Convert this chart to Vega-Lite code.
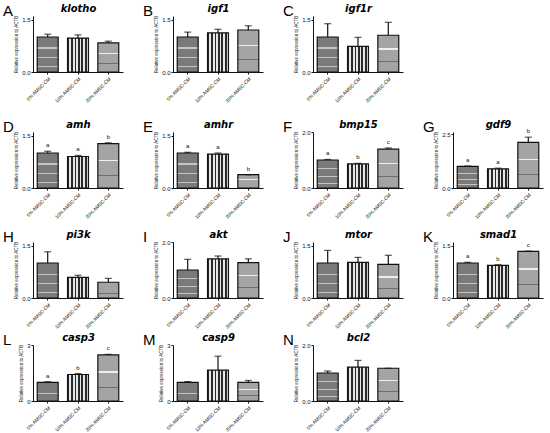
{
  "$schema": "https://vega.github.io/schema/vega-lite/v6.json",
  "padding": {"left": 3, "top": 3, "right": 3, "bottom": 0},
  "data": {
    "values": [
      {"gene": "klotho", "group": "5% AMSC-CM", "mean": 1.00, "hi": 1.08, "sig": ""},
      {"gene": "klotho", "group": "10% AMSC-CM", "mean": 0.97, "hi": 1.06, "sig": ""},
      {"gene": "klotho", "group": "20% AMSC-CM", "mean": 0.83, "hi": 0.88, "sig": ""},
      {"gene": "igf1", "group": "5% AMSC-CM", "mean": 1.00, "hi": 1.14, "sig": ""},
      {"gene": "igf1", "group": "10% AMSC-CM", "mean": 1.12, "hi": 1.22, "sig": ""},
      {"gene": "igf1", "group": "20% AMSC-CM", "mean": 1.20, "hi": 1.32, "sig": ""},
      {"gene": "igf1r", "group": "5% AMSC-CM", "mean": 1.00, "hi": 1.38, "sig": ""},
      {"gene": "igf1r", "group": "10% AMSC-CM", "mean": 0.73, "hi": 0.99, "sig": ""},
      {"gene": "igf1r", "group": "20% AMSC-CM", "mean": 1.05, "hi": 1.42, "sig": ""},
      {"gene": "amh", "group": "5% AMSC-CM", "mean": 1.00, "hi": 1.05, "sig": "a"},
      {"gene": "amh", "group": "10% AMSC-CM", "mean": 0.90, "hi": 0.93, "sig": "a"},
      {"gene": "amh", "group": "20% AMSC-CM", "mean": 1.27, "hi": 1.29, "sig": "b"},
      {"gene": "amhr", "group": "5% AMSC-CM", "mean": 1.00, "hi": 1.02, "sig": "a"},
      {"gene": "amhr", "group": "10% AMSC-CM", "mean": 0.97, "hi": 1.00, "sig": "a"},
      {"gene": "amhr", "group": "20% AMSC-CM", "mean": 0.38, "hi": 0.38, "sig": "b"},
      {"gene": "bmp15", "group": "5% AMSC-CM", "mean": 1.00, "hi": 1.02, "sig": "a"},
      {"gene": "bmp15", "group": "10% AMSC-CM", "mean": 0.86, "hi": 0.88, "sig": "b"},
      {"gene": "bmp15", "group": "20% AMSC-CM", "mean": 1.39, "hi": 1.43, "sig": "c"},
      {"gene": "gdf9", "group": "5% AMSC-CM", "mean": 1.00, "hi": 1.02, "sig": "a"},
      {"gene": "gdf9", "group": "10% AMSC-CM", "mean": 0.89, "hi": 0.92, "sig": "a"},
      {"gene": "gdf9", "group": "20% AMSC-CM", "mean": 2.12, "hi": 2.36, "sig": "b"},
      {"gene": "pi3k", "group": "5% AMSC-CM", "mean": 1.00, "hi": 1.32, "sig": ""},
      {"gene": "pi3k", "group": "10% AMSC-CM", "mean": 0.59, "hi": 0.65, "sig": ""},
      {"gene": "pi3k", "group": "20% AMSC-CM", "mean": 0.45, "hi": 0.56, "sig": ""},
      {"gene": "akt", "group": "5% AMSC-CM", "mean": 1.00, "hi": 1.38, "sig": ""},
      {"gene": "akt", "group": "10% AMSC-CM", "mean": 1.40, "hi": 1.50, "sig": ""},
      {"gene": "akt", "group": "20% AMSC-CM", "mean": 1.26, "hi": 1.40, "sig": ""},
      {"gene": "mtor", "group": "5% AMSC-CM", "mean": 1.00, "hi": 1.36, "sig": ""},
      {"gene": "mtor", "group": "10% AMSC-CM", "mean": 1.02, "hi": 1.16, "sig": ""},
      {"gene": "mtor", "group": "20% AMSC-CM", "mean": 0.96, "hi": 1.22, "sig": ""},
      {"gene": "smad1", "group": "5% AMSC-CM", "mean": 1.00, "hi": 1.02, "sig": "a"},
      {"gene": "smad1", "group": "10% AMSC-CM", "mean": 0.93, "hi": 0.95, "sig": "b"},
      {"gene": "smad1", "group": "20% AMSC-CM", "mean": 1.33, "hi": 1.34, "sig": "c"},
      {"gene": "casp3", "group": "5% AMSC-CM", "mean": 1.00, "hi": 1.03, "sig": "a"},
      {"gene": "casp3", "group": "10% AMSC-CM", "mean": 1.42, "hi": 1.47, "sig": "b"},
      {"gene": "casp3", "group": "20% AMSC-CM", "mean": 2.47, "hi": 2.50, "sig": "c"},
      {"gene": "casp9", "group": "5% AMSC-CM", "mean": 1.00, "hi": 1.04, "sig": ""},
      {"gene": "casp9", "group": "10% AMSC-CM", "mean": 1.65, "hi": 2.40, "sig": ""},
      {"gene": "casp9", "group": "20% AMSC-CM", "mean": 1.00, "hi": 1.10, "sig": ""},
      {"gene": "bcl2", "group": "5% AMSC-CM", "mean": 1.00, "hi": 1.07, "sig": ""},
      {"gene": "bcl2", "group": "10% AMSC-CM", "mean": 1.21, "hi": 1.45, "sig": ""},
      {"gene": "bcl2", "group": "20% AMSC-CM", "mean": 1.17, "hi": 1.17, "sig": ""}
    ]
  },
  "bounds": "flush",
  "spacing": 116,
  "vconcat": [
    {
      "bounds": "flush",
      "spacing": 50,
      "hconcat": [
        {"width": 90, "height": 56, "title": "A", "transform": [{"filter": "datum.gene === 'klotho'"}], "encoding": {"x": {"field": "group", "type": "nominal", "sort": null, "axis": {"title": "klotho"}}}, "layer": [{"mark": "bar", "encoding": {"y": {"field": "mean", "type": "quantitative", "scale": {"domain": [0, 1.5]}, "axis": {"values": [0, 0.5, 1, 1.5], "format": ".1f", "title": "Relative expression to ACTB"}}, "fill": {"condition": [{"test": "datum.group === '10% AMSC-CM'", "value": {"gradient": "linear", "x1": 0, "y1": 0, "x2": 1, "y2": 0, "stops": [{"offset": 0, "color": "#2a2a2a"}, {"offset": 0.083, "color": "#2a2a2a"}, {"offset": 0.083, "color": "#e6e6e6"}, {"offset": 0.167, "color": "#e6e6e6"}, {"offset": 0.167, "color": "#2a2a2a"}, {"offset": 0.25, "color": "#2a2a2a"}, {"offset": 0.25, "color": "#e6e6e6"}, {"offset": 0.333, "color": "#e6e6e6"}, {"offset": 0.333, "color": "#2a2a2a"}, {"offset": 0.417, "color": "#2a2a2a"}, {"offset": 0.417, "color": "#e6e6e6"}, {"offset": 0.5, "color": "#e6e6e6"}, {"offset": 0.5, "color": "#2a2a2a"}, {"offset": 0.583, "color": "#2a2a2a"}, {"offset": 0.583, "color": "#e6e6e6"}, {"offset": 0.667, "color": "#e6e6e6"}, {"offset": 0.667, "color": "#2a2a2a"}, {"offset": 0.75, "color": "#2a2a2a"}, {"offset": 0.75, "color": "#e6e6e6"}, {"offset": 0.833, "color": "#e6e6e6"}, {"offset": 0.833, "color": "#2a2a2a"}, {"offset": 0.917, "color": "#2a2a2a"}, {"offset": 0.917, "color": "#e6e6e6"}, {"offset": 1, "color": "#e6e6e6"}]}}, {"test": "datum.group === '20% AMSC-CM'", "value": {"gradient": "linear", "x1": 0, "y1": 0, "x2": 0, "y2": 1, "stops": [{"offset": 0, "color": "#a4a4a4"}, {"offset": 0.36, "color": "#a4a4a4"}, {"offset": 0.36, "color": "#eeeeee"}, {"offset": 0.39, "color": "#eeeeee"}, {"offset": 0.39, "color": "#a4a4a4"}, {"offset": 0.7, "color": "#a4a4a4"}, {"offset": 0.7, "color": "#6e6e6e"}, {"offset": 0.72, "color": "#6e6e6e"}, {"offset": 0.72, "color": "#a4a4a4"}, {"offset": 1, "color": "#a4a4a4"}]}}], "value": {"gradient": "linear", "x1": 0, "y1": 0, "x2": 0, "y2": 1, "stops": [{"offset": 0, "color": "#7a7a7a"}, {"offset": 0.3, "color": "#7a7a7a"}, {"offset": 0.3, "color": "#c4c4c4"}, {"offset": 0.33, "color": "#c4c4c4"}, {"offset": 0.33, "color": "#7a7a7a"}, {"offset": 0.58, "color": "#7a7a7a"}, {"offset": 0.58, "color": "#c4c4c4"}, {"offset": 0.61, "color": "#c4c4c4"}, {"offset": 0.61, "color": "#7a7a7a"}, {"offset": 0.82, "color": "#7a7a7a"}, {"offset": 0.82, "color": "#c4c4c4"}, {"offset": 0.85, "color": "#c4c4c4"}, {"offset": 0.85, "color": "#7a7a7a"}, {"offset": 1, "color": "#7a7a7a"}]}}}}, {"mark": "rule", "encoding": {"y": {"field": "mean", "type": "quantitative"}, "y2": {"field": "hi"}}}, {"mark": "tick", "encoding": {"y": {"field": "hi", "type": "quantitative"}}}, {"mark": "text", "encoding": {"y": {"field": "hi", "type": "quantitative"}, "text": {"field": "sig"}}}]},
        {"width": 90, "height": 56, "title": "B", "transform": [{"filter": "datum.gene === 'igf1'"}], "encoding": {"x": {"field": "group", "type": "nominal", "sort": null, "axis": {"title": "igf1"}}}, "layer": [{"mark": "bar", "encoding": {"y": {"field": "mean", "type": "quantitative", "scale": {"domain": [0, 1.5]}, "axis": {"values": [0, 0.5, 1, 1.5], "format": ".1f", "title": "Relative expression to ACTB"}}, "fill": {"condition": [{"test": "datum.group === '10% AMSC-CM'", "value": {"gradient": "linear", "x1": 0, "y1": 0, "x2": 1, "y2": 0, "stops": [{"offset": 0, "color": "#2a2a2a"}, {"offset": 0.083, "color": "#2a2a2a"}, {"offset": 0.083, "color": "#e6e6e6"}, {"offset": 0.167, "color": "#e6e6e6"}, {"offset": 0.167, "color": "#2a2a2a"}, {"offset": 0.25, "color": "#2a2a2a"}, {"offset": 0.25, "color": "#e6e6e6"}, {"offset": 0.333, "color": "#e6e6e6"}, {"offset": 0.333, "color": "#2a2a2a"}, {"offset": 0.417, "color": "#2a2a2a"}, {"offset": 0.417, "color": "#e6e6e6"}, {"offset": 0.5, "color": "#e6e6e6"}, {"offset": 0.5, "color": "#2a2a2a"}, {"offset": 0.583, "color": "#2a2a2a"}, {"offset": 0.583, "color": "#e6e6e6"}, {"offset": 0.667, "color": "#e6e6e6"}, {"offset": 0.667, "color": "#2a2a2a"}, {"offset": 0.75, "color": "#2a2a2a"}, {"offset": 0.75, "color": "#e6e6e6"}, {"offset": 0.833, "color": "#e6e6e6"}, {"offset": 0.833, "color": "#2a2a2a"}, {"offset": 0.917, "color": "#2a2a2a"}, {"offset": 0.917, "color": "#e6e6e6"}, {"offset": 1, "color": "#e6e6e6"}]}}, {"test": "datum.group === '20% AMSC-CM'", "value": {"gradient": "linear", "x1": 0, "y1": 0, "x2": 0, "y2": 1, "stops": [{"offset": 0, "color": "#a4a4a4"}, {"offset": 0.36, "color": "#a4a4a4"}, {"offset": 0.36, "color": "#eeeeee"}, {"offset": 0.39, "color": "#eeeeee"}, {"offset": 0.39, "color": "#a4a4a4"}, {"offset": 0.7, "color": "#a4a4a4"}, {"offset": 0.7, "color": "#6e6e6e"}, {"offset": 0.72, "color": "#6e6e6e"}, {"offset": 0.72, "color": "#a4a4a4"}, {"offset": 1, "color": "#a4a4a4"}]}}], "value": {"gradient": "linear", "x1": 0, "y1": 0, "x2": 0, "y2": 1, "stops": [{"offset": 0, "color": "#7a7a7a"}, {"offset": 0.3, "color": "#7a7a7a"}, {"offset": 0.3, "color": "#c4c4c4"}, {"offset": 0.33, "color": "#c4c4c4"}, {"offset": 0.33, "color": "#7a7a7a"}, {"offset": 0.58, "color": "#7a7a7a"}, {"offset": 0.58, "color": "#c4c4c4"}, {"offset": 0.61, "color": "#c4c4c4"}, {"offset": 0.61, "color": "#7a7a7a"}, {"offset": 0.82, "color": "#7a7a7a"}, {"offset": 0.82, "color": "#c4c4c4"}, {"offset": 0.85, "color": "#c4c4c4"}, {"offset": 0.85, "color": "#7a7a7a"}, {"offset": 1, "color": "#7a7a7a"}]}}}}, {"mark": "rule", "encoding": {"y": {"field": "mean", "type": "quantitative"}, "y2": {"field": "hi"}}}, {"mark": "tick", "encoding": {"y": {"field": "hi", "type": "quantitative"}}}, {"mark": "text", "encoding": {"y": {"field": "hi", "type": "quantitative"}, "text": {"field": "sig"}}}]},
        {"width": 90, "height": 56, "title": "C", "transform": [{"filter": "datum.gene === 'igf1r'"}], "encoding": {"x": {"field": "group", "type": "nominal", "sort": null, "axis": {"title": "igf1r"}}}, "layer": [{"mark": "bar", "encoding": {"y": {"field": "mean", "type": "quantitative", "scale": {"domain": [0, 1.5]}, "axis": {"values": [0, 0.5, 1, 1.5], "format": ".1f", "title": "Relative expression to ACTB"}}, "fill": {"condition": [{"test": "datum.group === '10% AMSC-CM'", "value": {"gradient": "linear", "x1": 0, "y1": 0, "x2": 1, "y2": 0, "stops": [{"offset": 0, "color": "#2a2a2a"}, {"offset": 0.083, "color": "#2a2a2a"}, {"offset": 0.083, "color": "#e6e6e6"}, {"offset": 0.167, "color": "#e6e6e6"}, {"offset": 0.167, "color": "#2a2a2a"}, {"offset": 0.25, "color": "#2a2a2a"}, {"offset": 0.25, "color": "#e6e6e6"}, {"offset": 0.333, "color": "#e6e6e6"}, {"offset": 0.333, "color": "#2a2a2a"}, {"offset": 0.417, "color": "#2a2a2a"}, {"offset": 0.417, "color": "#e6e6e6"}, {"offset": 0.5, "color": "#e6e6e6"}, {"offset": 0.5, "color": "#2a2a2a"}, {"offset": 0.583, "color": "#2a2a2a"}, {"offset": 0.583, "color": "#e6e6e6"}, {"offset": 0.667, "color": "#e6e6e6"}, {"offset": 0.667, "color": "#2a2a2a"}, {"offset": 0.75, "color": "#2a2a2a"}, {"offset": 0.75, "color": "#e6e6e6"}, {"offset": 0.833, "color": "#e6e6e6"}, {"offset": 0.833, "color": "#2a2a2a"}, {"offset": 0.917, "color": "#2a2a2a"}, {"offset": 0.917, "color": "#e6e6e6"}, {"offset": 1, "color": "#e6e6e6"}]}}, {"test": "datum.group === '20% AMSC-CM'", "value": {"gradient": "linear", "x1": 0, "y1": 0, "x2": 0, "y2": 1, "stops": [{"offset": 0, "color": "#a4a4a4"}, {"offset": 0.36, "color": "#a4a4a4"}, {"offset": 0.36, "color": "#eeeeee"}, {"offset": 0.39, "color": "#eeeeee"}, {"offset": 0.39, "color": "#a4a4a4"}, {"offset": 0.7, "color": "#a4a4a4"}, {"offset": 0.7, "color": "#6e6e6e"}, {"offset": 0.72, "color": "#6e6e6e"}, {"offset": 0.72, "color": "#a4a4a4"}, {"offset": 1, "color": "#a4a4a4"}]}}], "value": {"gradient": "linear", "x1": 0, "y1": 0, "x2": 0, "y2": 1, "stops": [{"offset": 0, "color": "#7a7a7a"}, {"offset": 0.3, "color": "#7a7a7a"}, {"offset": 0.3, "color": "#c4c4c4"}, {"offset": 0.33, "color": "#c4c4c4"}, {"offset": 0.33, "color": "#7a7a7a"}, {"offset": 0.58, "color": "#7a7a7a"}, {"offset": 0.58, "color": "#c4c4c4"}, {"offset": 0.61, "color": "#c4c4c4"}, {"offset": 0.61, "color": "#7a7a7a"}, {"offset": 0.82, "color": "#7a7a7a"}, {"offset": 0.82, "color": "#c4c4c4"}, {"offset": 0.85, "color": "#c4c4c4"}, {"offset": 0.85, "color": "#7a7a7a"}, {"offset": 1, "color": "#7a7a7a"}]}}}}, {"mark": "rule", "encoding": {"y": {"field": "mean", "type": "quantitative"}, "y2": {"field": "hi"}}}, {"mark": "tick", "encoding": {"y": {"field": "hi", "type": "quantitative"}}}, {"mark": "text", "encoding": {"y": {"field": "hi", "type": "quantitative"}, "text": {"field": "sig"}}}]}
      ]
    },
    {
      "bounds": "flush",
      "spacing": 110,
      "vconcat": [
        {
          "bounds": "flush",
          "spacing": 50,
          "hconcat": [
            {"width": 90, "height": 56, "title": "D", "transform": [{"filter": "datum.gene === 'amh'"}], "encoding": {"x": {"field": "group", "type": "nominal", "sort": null, "axis": {"title": "amh"}}}, "layer": [{"mark": "bar", "encoding": {"y": {"field": "mean", "type": "quantitative", "scale": {"domain": [0, 1.5]}, "axis": {"values": [0, 0.5, 1, 1.5], "format": ".1f", "title": "Relative expression to ACTB"}}, "fill": {"condition": [{"test": "datum.group === '10% AMSC-CM'", "value": {"gradient": "linear", "x1": 0, "y1": 0, "x2": 1, "y2": 0, "stops": [{"offset": 0, "color": "#2a2a2a"}, {"offset": 0.083, "color": "#2a2a2a"}, {"offset": 0.083, "color": "#e6e6e6"}, {"offset": 0.167, "color": "#e6e6e6"}, {"offset": 0.167, "color": "#2a2a2a"}, {"offset": 0.25, "color": "#2a2a2a"}, {"offset": 0.25, "color": "#e6e6e6"}, {"offset": 0.333, "color": "#e6e6e6"}, {"offset": 0.333, "color": "#2a2a2a"}, {"offset": 0.417, "color": "#2a2a2a"}, {"offset": 0.417, "color": "#e6e6e6"}, {"offset": 0.5, "color": "#e6e6e6"}, {"offset": 0.5, "color": "#2a2a2a"}, {"offset": 0.583, "color": "#2a2a2a"}, {"offset": 0.583, "color": "#e6e6e6"}, {"offset": 0.667, "color": "#e6e6e6"}, {"offset": 0.667, "color": "#2a2a2a"}, {"offset": 0.75, "color": "#2a2a2a"}, {"offset": 0.75, "color": "#e6e6e6"}, {"offset": 0.833, "color": "#e6e6e6"}, {"offset": 0.833, "color": "#2a2a2a"}, {"offset": 0.917, "color": "#2a2a2a"}, {"offset": 0.917, "color": "#e6e6e6"}, {"offset": 1, "color": "#e6e6e6"}]}}, {"test": "datum.group === '20% AMSC-CM'", "value": {"gradient": "linear", "x1": 0, "y1": 0, "x2": 0, "y2": 1, "stops": [{"offset": 0, "color": "#a4a4a4"}, {"offset": 0.36, "color": "#a4a4a4"}, {"offset": 0.36, "color": "#eeeeee"}, {"offset": 0.39, "color": "#eeeeee"}, {"offset": 0.39, "color": "#a4a4a4"}, {"offset": 0.7, "color": "#a4a4a4"}, {"offset": 0.7, "color": "#6e6e6e"}, {"offset": 0.72, "color": "#6e6e6e"}, {"offset": 0.72, "color": "#a4a4a4"}, {"offset": 1, "color": "#a4a4a4"}]}}], "value": {"gradient": "linear", "x1": 0, "y1": 0, "x2": 0, "y2": 1, "stops": [{"offset": 0, "color": "#7a7a7a"}, {"offset": 0.3, "color": "#7a7a7a"}, {"offset": 0.3, "color": "#c4c4c4"}, {"offset": 0.33, "color": "#c4c4c4"}, {"offset": 0.33, "color": "#7a7a7a"}, {"offset": 0.58, "color": "#7a7a7a"}, {"offset": 0.58, "color": "#c4c4c4"}, {"offset": 0.61, "color": "#c4c4c4"}, {"offset": 0.61, "color": "#7a7a7a"}, {"offset": 0.82, "color": "#7a7a7a"}, {"offset": 0.82, "color": "#c4c4c4"}, {"offset": 0.85, "color": "#c4c4c4"}, {"offset": 0.85, "color": "#7a7a7a"}, {"offset": 1, "color": "#7a7a7a"}]}}}}, {"mark": "rule", "encoding": {"y": {"field": "mean", "type": "quantitative"}, "y2": {"field": "hi"}}}, {"mark": "tick", "encoding": {"y": {"field": "hi", "type": "quantitative"}}}, {"mark": "text", "encoding": {"y": {"field": "hi", "type": "quantitative"}, "text": {"field": "sig"}}}]},
            {"width": 90, "height": 56, "title": "E", "transform": [{"filter": "datum.gene === 'amhr'"}], "encoding": {"x": {"field": "group", "type": "nominal", "sort": null, "axis": {"title": "amhr"}}}, "layer": [{"mark": "bar", "encoding": {"y": {"field": "mean", "type": "quantitative", "scale": {"domain": [0, 1.5]}, "axis": {"values": [0, 0.5, 1, 1.5], "format": ".1f", "title": "Relative expression to ACTB"}}, "fill": {"condition": [{"test": "datum.group === '10% AMSC-CM'", "value": {"gradient": "linear", "x1": 0, "y1": 0, "x2": 1, "y2": 0, "stops": [{"offset": 0, "color": "#2a2a2a"}, {"offset": 0.083, "color": "#2a2a2a"}, {"offset": 0.083, "color": "#e6e6e6"}, {"offset": 0.167, "color": "#e6e6e6"}, {"offset": 0.167, "color": "#2a2a2a"}, {"offset": 0.25, "color": "#2a2a2a"}, {"offset": 0.25, "color": "#e6e6e6"}, {"offset": 0.333, "color": "#e6e6e6"}, {"offset": 0.333, "color": "#2a2a2a"}, {"offset": 0.417, "color": "#2a2a2a"}, {"offset": 0.417, "color": "#e6e6e6"}, {"offset": 0.5, "color": "#e6e6e6"}, {"offset": 0.5, "color": "#2a2a2a"}, {"offset": 0.583, "color": "#2a2a2a"}, {"offset": 0.583, "color": "#e6e6e6"}, {"offset": 0.667, "color": "#e6e6e6"}, {"offset": 0.667, "color": "#2a2a2a"}, {"offset": 0.75, "color": "#2a2a2a"}, {"offset": 0.75, "color": "#e6e6e6"}, {"offset": 0.833, "color": "#e6e6e6"}, {"offset": 0.833, "color": "#2a2a2a"}, {"offset": 0.917, "color": "#2a2a2a"}, {"offset": 0.917, "color": "#e6e6e6"}, {"offset": 1, "color": "#e6e6e6"}]}}, {"test": "datum.group === '20% AMSC-CM'", "value": {"gradient": "linear", "x1": 0, "y1": 0, "x2": 0, "y2": 1, "stops": [{"offset": 0, "color": "#a4a4a4"}, {"offset": 0.36, "color": "#a4a4a4"}, {"offset": 0.36, "color": "#eeeeee"}, {"offset": 0.39, "color": "#eeeeee"}, {"offset": 0.39, "color": "#a4a4a4"}, {"offset": 0.7, "color": "#a4a4a4"}, {"offset": 0.7, "color": "#6e6e6e"}, {"offset": 0.72, "color": "#6e6e6e"}, {"offset": 0.72, "color": "#a4a4a4"}, {"offset": 1, "color": "#a4a4a4"}]}}], "value": {"gradient": "linear", "x1": 0, "y1": 0, "x2": 0, "y2": 1, "stops": [{"offset": 0, "color": "#7a7a7a"}, {"offset": 0.3, "color": "#7a7a7a"}, {"offset": 0.3, "color": "#c4c4c4"}, {"offset": 0.33, "color": "#c4c4c4"}, {"offset": 0.33, "color": "#7a7a7a"}, {"offset": 0.58, "color": "#7a7a7a"}, {"offset": 0.58, "color": "#c4c4c4"}, {"offset": 0.61, "color": "#c4c4c4"}, {"offset": 0.61, "color": "#7a7a7a"}, {"offset": 0.82, "color": "#7a7a7a"}, {"offset": 0.82, "color": "#c4c4c4"}, {"offset": 0.85, "color": "#c4c4c4"}, {"offset": 0.85, "color": "#7a7a7a"}, {"offset": 1, "color": "#7a7a7a"}]}}}}, {"mark": "rule", "encoding": {"y": {"field": "mean", "type": "quantitative"}, "y2": {"field": "hi"}}}, {"mark": "tick", "encoding": {"y": {"field": "hi", "type": "quantitative"}}}, {"mark": "text", "encoding": {"y": {"field": "hi", "type": "quantitative"}, "text": {"field": "sig"}}}]},
            {"width": 90, "height": 56, "title": "F", "transform": [{"filter": "datum.gene === 'bmp15'"}], "encoding": {"x": {"field": "group", "type": "nominal", "sort": null, "axis": {"title": "bmp15"}}}, "layer": [{"mark": "bar", "encoding": {"y": {"field": "mean", "type": "quantitative", "scale": {"domain": [0, 2]}, "axis": {"values": [0, 0.5, 1, 1.5, 2], "format": ".1f", "title": "Relative expression to ACTB"}}, "fill": {"condition": [{"test": "datum.group === '10% AMSC-CM'", "value": {"gradient": "linear", "x1": 0, "y1": 0, "x2": 1, "y2": 0, "stops": [{"offset": 0, "color": "#2a2a2a"}, {"offset": 0.083, "color": "#2a2a2a"}, {"offset": 0.083, "color": "#e6e6e6"}, {"offset": 0.167, "color": "#e6e6e6"}, {"offset": 0.167, "color": "#2a2a2a"}, {"offset": 0.25, "color": "#2a2a2a"}, {"offset": 0.25, "color": "#e6e6e6"}, {"offset": 0.333, "color": "#e6e6e6"}, {"offset": 0.333, "color": "#2a2a2a"}, {"offset": 0.417, "color": "#2a2a2a"}, {"offset": 0.417, "color": "#e6e6e6"}, {"offset": 0.5, "color": "#e6e6e6"}, {"offset": 0.5, "color": "#2a2a2a"}, {"offset": 0.583, "color": "#2a2a2a"}, {"offset": 0.583, "color": "#e6e6e6"}, {"offset": 0.667, "color": "#e6e6e6"}, {"offset": 0.667, "color": "#2a2a2a"}, {"offset": 0.75, "color": "#2a2a2a"}, {"offset": 0.75, "color": "#e6e6e6"}, {"offset": 0.833, "color": "#e6e6e6"}, {"offset": 0.833, "color": "#2a2a2a"}, {"offset": 0.917, "color": "#2a2a2a"}, {"offset": 0.917, "color": "#e6e6e6"}, {"offset": 1, "color": "#e6e6e6"}]}}, {"test": "datum.group === '20% AMSC-CM'", "value": {"gradient": "linear", "x1": 0, "y1": 0, "x2": 0, "y2": 1, "stops": [{"offset": 0, "color": "#a4a4a4"}, {"offset": 0.36, "color": "#a4a4a4"}, {"offset": 0.36, "color": "#eeeeee"}, {"offset": 0.39, "color": "#eeeeee"}, {"offset": 0.39, "color": "#a4a4a4"}, {"offset": 0.7, "color": "#a4a4a4"}, {"offset": 0.7, "color": "#6e6e6e"}, {"offset": 0.72, "color": "#6e6e6e"}, {"offset": 0.72, "color": "#a4a4a4"}, {"offset": 1, "color": "#a4a4a4"}]}}], "value": {"gradient": "linear", "x1": 0, "y1": 0, "x2": 0, "y2": 1, "stops": [{"offset": 0, "color": "#7a7a7a"}, {"offset": 0.3, "color": "#7a7a7a"}, {"offset": 0.3, "color": "#c4c4c4"}, {"offset": 0.33, "color": "#c4c4c4"}, {"offset": 0.33, "color": "#7a7a7a"}, {"offset": 0.58, "color": "#7a7a7a"}, {"offset": 0.58, "color": "#c4c4c4"}, {"offset": 0.61, "color": "#c4c4c4"}, {"offset": 0.61, "color": "#7a7a7a"}, {"offset": 0.82, "color": "#7a7a7a"}, {"offset": 0.82, "color": "#c4c4c4"}, {"offset": 0.85, "color": "#c4c4c4"}, {"offset": 0.85, "color": "#7a7a7a"}, {"offset": 1, "color": "#7a7a7a"}]}}}}, {"mark": "rule", "encoding": {"y": {"field": "mean", "type": "quantitative"}, "y2": {"field": "hi"}}}, {"mark": "tick", "encoding": {"y": {"field": "hi", "type": "quantitative"}}}, {"mark": "text", "encoding": {"y": {"field": "hi", "type": "quantitative"}, "text": {"field": "sig"}}}]},
            {"width": 90, "height": 56, "title": "G", "transform": [{"filter": "datum.gene === 'gdf9'"}], "encoding": {"x": {"field": "group", "type": "nominal", "sort": null, "axis": {"title": "gdf9"}}}, "layer": [{"mark": "bar", "encoding": {"y": {"field": "mean", "type": "quantitative", "scale": {"domain": [0, 2.5]}, "axis": {"values": [0, 0.5, 1, 1.5, 2, 2.5], "format": ".1f", "title": "Relative expression to ACTB"}}, "fill": {"condition": [{"test": "datum.group === '10% AMSC-CM'", "value": {"gradient": "linear", "x1": 0, "y1": 0, "x2": 1, "y2": 0, "stops": [{"offset": 0, "color": "#2a2a2a"}, {"offset": 0.083, "color": "#2a2a2a"}, {"offset": 0.083, "color": "#e6e6e6"}, {"offset": 0.167, "color": "#e6e6e6"}, {"offset": 0.167, "color": "#2a2a2a"}, {"offset": 0.25, "color": "#2a2a2a"}, {"offset": 0.25, "color": "#e6e6e6"}, {"offset": 0.333, "color": "#e6e6e6"}, {"offset": 0.333, "color": "#2a2a2a"}, {"offset": 0.417, "color": "#2a2a2a"}, {"offset": 0.417, "color": "#e6e6e6"}, {"offset": 0.5, "color": "#e6e6e6"}, {"offset": 0.5, "color": "#2a2a2a"}, {"offset": 0.583, "color": "#2a2a2a"}, {"offset": 0.583, "color": "#e6e6e6"}, {"offset": 0.667, "color": "#e6e6e6"}, {"offset": 0.667, "color": "#2a2a2a"}, {"offset": 0.75, "color": "#2a2a2a"}, {"offset": 0.75, "color": "#e6e6e6"}, {"offset": 0.833, "color": "#e6e6e6"}, {"offset": 0.833, "color": "#2a2a2a"}, {"offset": 0.917, "color": "#2a2a2a"}, {"offset": 0.917, "color": "#e6e6e6"}, {"offset": 1, "color": "#e6e6e6"}]}}, {"test": "datum.group === '20% AMSC-CM'", "value": {"gradient": "linear", "x1": 0, "y1": 0, "x2": 0, "y2": 1, "stops": [{"offset": 0, "color": "#a4a4a4"}, {"offset": 0.36, "color": "#a4a4a4"}, {"offset": 0.36, "color": "#eeeeee"}, {"offset": 0.39, "color": "#eeeeee"}, {"offset": 0.39, "color": "#a4a4a4"}, {"offset": 0.7, "color": "#a4a4a4"}, {"offset": 0.7, "color": "#6e6e6e"}, {"offset": 0.72, "color": "#6e6e6e"}, {"offset": 0.72, "color": "#a4a4a4"}, {"offset": 1, "color": "#a4a4a4"}]}}], "value": {"gradient": "linear", "x1": 0, "y1": 0, "x2": 0, "y2": 1, "stops": [{"offset": 0, "color": "#7a7a7a"}, {"offset": 0.3, "color": "#7a7a7a"}, {"offset": 0.3, "color": "#c4c4c4"}, {"offset": 0.33, "color": "#c4c4c4"}, {"offset": 0.33, "color": "#7a7a7a"}, {"offset": 0.58, "color": "#7a7a7a"}, {"offset": 0.58, "color": "#c4c4c4"}, {"offset": 0.61, "color": "#c4c4c4"}, {"offset": 0.61, "color": "#7a7a7a"}, {"offset": 0.82, "color": "#7a7a7a"}, {"offset": 0.82, "color": "#c4c4c4"}, {"offset": 0.85, "color": "#c4c4c4"}, {"offset": 0.85, "color": "#7a7a7a"}, {"offset": 1, "color": "#7a7a7a"}]}}}}, {"mark": "rule", "encoding": {"y": {"field": "mean", "type": "quantitative"}, "y2": {"field": "hi"}}}, {"mark": "tick", "encoding": {"y": {"field": "hi", "type": "quantitative"}}}, {"mark": "text", "encoding": {"y": {"field": "hi", "type": "quantitative"}, "text": {"field": "sig"}}}]}
          ]
        },
        {
          "bounds": "flush",
          "spacing": 103,
          "vconcat": [
            {
              "bounds": "flush",
              "spacing": 50,
              "hconcat": [
                {"width": 90, "height": 56, "title": "H", "transform": [{"filter": "datum.gene === 'pi3k'"}], "encoding": {"x": {"field": "group", "type": "nominal", "sort": null, "axis": {"title": "pi3k"}}}, "layer": [{"mark": "bar", "encoding": {"y": {"field": "mean", "type": "quantitative", "scale": {"domain": [0, 1.5]}, "axis": {"values": [0, 0.5, 1, 1.5], "format": ".1f", "title": "Relative expression to ACTB"}}, "fill": {"condition": [{"test": "datum.group === '10% AMSC-CM'", "value": {"gradient": "linear", "x1": 0, "y1": 0, "x2": 1, "y2": 0, "stops": [{"offset": 0, "color": "#2a2a2a"}, {"offset": 0.083, "color": "#2a2a2a"}, {"offset": 0.083, "color": "#e6e6e6"}, {"offset": 0.167, "color": "#e6e6e6"}, {"offset": 0.167, "color": "#2a2a2a"}, {"offset": 0.25, "color": "#2a2a2a"}, {"offset": 0.25, "color": "#e6e6e6"}, {"offset": 0.333, "color": "#e6e6e6"}, {"offset": 0.333, "color": "#2a2a2a"}, {"offset": 0.417, "color": "#2a2a2a"}, {"offset": 0.417, "color": "#e6e6e6"}, {"offset": 0.5, "color": "#e6e6e6"}, {"offset": 0.5, "color": "#2a2a2a"}, {"offset": 0.583, "color": "#2a2a2a"}, {"offset": 0.583, "color": "#e6e6e6"}, {"offset": 0.667, "color": "#e6e6e6"}, {"offset": 0.667, "color": "#2a2a2a"}, {"offset": 0.75, "color": "#2a2a2a"}, {"offset": 0.75, "color": "#e6e6e6"}, {"offset": 0.833, "color": "#e6e6e6"}, {"offset": 0.833, "color": "#2a2a2a"}, {"offset": 0.917, "color": "#2a2a2a"}, {"offset": 0.917, "color": "#e6e6e6"}, {"offset": 1, "color": "#e6e6e6"}]}}, {"test": "datum.group === '20% AMSC-CM'", "value": {"gradient": "linear", "x1": 0, "y1": 0, "x2": 0, "y2": 1, "stops": [{"offset": 0, "color": "#a4a4a4"}, {"offset": 0.36, "color": "#a4a4a4"}, {"offset": 0.36, "color": "#eeeeee"}, {"offset": 0.39, "color": "#eeeeee"}, {"offset": 0.39, "color": "#a4a4a4"}, {"offset": 0.7, "color": "#a4a4a4"}, {"offset": 0.7, "color": "#6e6e6e"}, {"offset": 0.72, "color": "#6e6e6e"}, {"offset": 0.72, "color": "#a4a4a4"}, {"offset": 1, "color": "#a4a4a4"}]}}], "value": {"gradient": "linear", "x1": 0, "y1": 0, "x2": 0, "y2": 1, "stops": [{"offset": 0, "color": "#7a7a7a"}, {"offset": 0.3, "color": "#7a7a7a"}, {"offset": 0.3, "color": "#c4c4c4"}, {"offset": 0.33, "color": "#c4c4c4"}, {"offset": 0.33, "color": "#7a7a7a"}, {"offset": 0.58, "color": "#7a7a7a"}, {"offset": 0.58, "color": "#c4c4c4"}, {"offset": 0.61, "color": "#c4c4c4"}, {"offset": 0.61, "color": "#7a7a7a"}, {"offset": 0.82, "color": "#7a7a7a"}, {"offset": 0.82, "color": "#c4c4c4"}, {"offset": 0.85, "color": "#c4c4c4"}, {"offset": 0.85, "color": "#7a7a7a"}, {"offset": 1, "color": "#7a7a7a"}]}}}}, {"mark": "rule", "encoding": {"y": {"field": "mean", "type": "quantitative"}, "y2": {"field": "hi"}}}, {"mark": "tick", "encoding": {"y": {"field": "hi", "type": "quantitative"}}}, {"mark": "text", "encoding": {"y": {"field": "hi", "type": "quantitative"}, "text": {"field": "sig"}}}]},
                {"width": 90, "height": 56, "title": "I", "transform": [{"filter": "datum.gene === 'akt'"}], "encoding": {"x": {"field": "group", "type": "nominal", "sort": null, "axis": {"title": "akt"}}}, "layer": [{"mark": "bar", "encoding": {"y": {"field": "mean", "type": "quantitative", "scale": {"domain": [0, 2]}, "axis": {"values": [0, 0.5, 1, 1.5, 2], "format": ".1f", "title": "Relative expression to ACTB"}}, "fill": {"condition": [{"test": "datum.group === '10% AMSC-CM'", "value": {"gradient": "linear", "x1": 0, "y1": 0, "x2": 1, "y2": 0, "stops": [{"offset": 0, "color": "#2a2a2a"}, {"offset": 0.083, "color": "#2a2a2a"}, {"offset": 0.083, "color": "#e6e6e6"}, {"offset": 0.167, "color": "#e6e6e6"}, {"offset": 0.167, "color": "#2a2a2a"}, {"offset": 0.25, "color": "#2a2a2a"}, {"offset": 0.25, "color": "#e6e6e6"}, {"offset": 0.333, "color": "#e6e6e6"}, {"offset": 0.333, "color": "#2a2a2a"}, {"offset": 0.417, "color": "#2a2a2a"}, {"offset": 0.417, "color": "#e6e6e6"}, {"offset": 0.5, "color": "#e6e6e6"}, {"offset": 0.5, "color": "#2a2a2a"}, {"offset": 0.583, "color": "#2a2a2a"}, {"offset": 0.583, "color": "#e6e6e6"}, {"offset": 0.667, "color": "#e6e6e6"}, {"offset": 0.667, "color": "#2a2a2a"}, {"offset": 0.75, "color": "#2a2a2a"}, {"offset": 0.75, "color": "#e6e6e6"}, {"offset": 0.833, "color": "#e6e6e6"}, {"offset": 0.833, "color": "#2a2a2a"}, {"offset": 0.917, "color": "#2a2a2a"}, {"offset": 0.917, "color": "#e6e6e6"}, {"offset": 1, "color": "#e6e6e6"}]}}, {"test": "datum.group === '20% AMSC-CM'", "value": {"gradient": "linear", "x1": 0, "y1": 0, "x2": 0, "y2": 1, "stops": [{"offset": 0, "color": "#a4a4a4"}, {"offset": 0.36, "color": "#a4a4a4"}, {"offset": 0.36, "color": "#eeeeee"}, {"offset": 0.39, "color": "#eeeeee"}, {"offset": 0.39, "color": "#a4a4a4"}, {"offset": 0.7, "color": "#a4a4a4"}, {"offset": 0.7, "color": "#6e6e6e"}, {"offset": 0.72, "color": "#6e6e6e"}, {"offset": 0.72, "color": "#a4a4a4"}, {"offset": 1, "color": "#a4a4a4"}]}}], "value": {"gradient": "linear", "x1": 0, "y1": 0, "x2": 0, "y2": 1, "stops": [{"offset": 0, "color": "#7a7a7a"}, {"offset": 0.3, "color": "#7a7a7a"}, {"offset": 0.3, "color": "#c4c4c4"}, {"offset": 0.33, "color": "#c4c4c4"}, {"offset": 0.33, "color": "#7a7a7a"}, {"offset": 0.58, "color": "#7a7a7a"}, {"offset": 0.58, "color": "#c4c4c4"}, {"offset": 0.61, "color": "#c4c4c4"}, {"offset": 0.61, "color": "#7a7a7a"}, {"offset": 0.82, "color": "#7a7a7a"}, {"offset": 0.82, "color": "#c4c4c4"}, {"offset": 0.85, "color": "#c4c4c4"}, {"offset": 0.85, "color": "#7a7a7a"}, {"offset": 1, "color": "#7a7a7a"}]}}}}, {"mark": "rule", "encoding": {"y": {"field": "mean", "type": "quantitative"}, "y2": {"field": "hi"}}}, {"mark": "tick", "encoding": {"y": {"field": "hi", "type": "quantitative"}}}, {"mark": "text", "encoding": {"y": {"field": "hi", "type": "quantitative"}, "text": {"field": "sig"}}}]},
                {"width": 90, "height": 56, "title": "J", "transform": [{"filter": "datum.gene === 'mtor'"}], "encoding": {"x": {"field": "group", "type": "nominal", "sort": null, "axis": {"title": "mtor"}}}, "layer": [{"mark": "bar", "encoding": {"y": {"field": "mean", "type": "quantitative", "scale": {"domain": [0, 1.5]}, "axis": {"values": [0, 0.5, 1, 1.5], "format": ".1f", "title": "Relative expression to ACTB"}}, "fill": {"condition": [{"test": "datum.group === '10% AMSC-CM'", "value": {"gradient": "linear", "x1": 0, "y1": 0, "x2": 1, "y2": 0, "stops": [{"offset": 0, "color": "#2a2a2a"}, {"offset": 0.083, "color": "#2a2a2a"}, {"offset": 0.083, "color": "#e6e6e6"}, {"offset": 0.167, "color": "#e6e6e6"}, {"offset": 0.167, "color": "#2a2a2a"}, {"offset": 0.25, "color": "#2a2a2a"}, {"offset": 0.25, "color": "#e6e6e6"}, {"offset": 0.333, "color": "#e6e6e6"}, {"offset": 0.333, "color": "#2a2a2a"}, {"offset": 0.417, "color": "#2a2a2a"}, {"offset": 0.417, "color": "#e6e6e6"}, {"offset": 0.5, "color": "#e6e6e6"}, {"offset": 0.5, "color": "#2a2a2a"}, {"offset": 0.583, "color": "#2a2a2a"}, {"offset": 0.583, "color": "#e6e6e6"}, {"offset": 0.667, "color": "#e6e6e6"}, {"offset": 0.667, "color": "#2a2a2a"}, {"offset": 0.75, "color": "#2a2a2a"}, {"offset": 0.75, "color": "#e6e6e6"}, {"offset": 0.833, "color": "#e6e6e6"}, {"offset": 0.833, "color": "#2a2a2a"}, {"offset": 0.917, "color": "#2a2a2a"}, {"offset": 0.917, "color": "#e6e6e6"}, {"offset": 1, "color": "#e6e6e6"}]}}, {"test": "datum.group === '20% AMSC-CM'", "value": {"gradient": "linear", "x1": 0, "y1": 0, "x2": 0, "y2": 1, "stops": [{"offset": 0, "color": "#a4a4a4"}, {"offset": 0.36, "color": "#a4a4a4"}, {"offset": 0.36, "color": "#eeeeee"}, {"offset": 0.39, "color": "#eeeeee"}, {"offset": 0.39, "color": "#a4a4a4"}, {"offset": 0.7, "color": "#a4a4a4"}, {"offset": 0.7, "color": "#6e6e6e"}, {"offset": 0.72, "color": "#6e6e6e"}, {"offset": 0.72, "color": "#a4a4a4"}, {"offset": 1, "color": "#a4a4a4"}]}}], "value": {"gradient": "linear", "x1": 0, "y1": 0, "x2": 0, "y2": 1, "stops": [{"offset": 0, "color": "#7a7a7a"}, {"offset": 0.3, "color": "#7a7a7a"}, {"offset": 0.3, "color": "#c4c4c4"}, {"offset": 0.33, "color": "#c4c4c4"}, {"offset": 0.33, "color": "#7a7a7a"}, {"offset": 0.58, "color": "#7a7a7a"}, {"offset": 0.58, "color": "#c4c4c4"}, {"offset": 0.61, "color": "#c4c4c4"}, {"offset": 0.61, "color": "#7a7a7a"}, {"offset": 0.82, "color": "#7a7a7a"}, {"offset": 0.82, "color": "#c4c4c4"}, {"offset": 0.85, "color": "#c4c4c4"}, {"offset": 0.85, "color": "#7a7a7a"}, {"offset": 1, "color": "#7a7a7a"}]}}}}, {"mark": "rule", "encoding": {"y": {"field": "mean", "type": "quantitative"}, "y2": {"field": "hi"}}}, {"mark": "tick", "encoding": {"y": {"field": "hi", "type": "quantitative"}}}, {"mark": "text", "encoding": {"y": {"field": "hi", "type": "quantitative"}, "text": {"field": "sig"}}}]},
                {"width": 90, "height": 56, "title": "K", "transform": [{"filter": "datum.gene === 'smad1'"}], "encoding": {"x": {"field": "group", "type": "nominal", "sort": null, "axis": {"title": "smad1"}}}, "layer": [{"mark": "bar", "encoding": {"y": {"field": "mean", "type": "quantitative", "scale": {"domain": [0, 1.5]}, "axis": {"values": [0, 0.5, 1, 1.5], "format": ".1f", "title": "Relative expression to ACTB"}}, "fill": {"condition": [{"test": "datum.group === '10% AMSC-CM'", "value": {"gradient": "linear", "x1": 0, "y1": 0, "x2": 1, "y2": 0, "stops": [{"offset": 0, "color": "#2a2a2a"}, {"offset": 0.083, "color": "#2a2a2a"}, {"offset": 0.083, "color": "#e6e6e6"}, {"offset": 0.167, "color": "#e6e6e6"}, {"offset": 0.167, "color": "#2a2a2a"}, {"offset": 0.25, "color": "#2a2a2a"}, {"offset": 0.25, "color": "#e6e6e6"}, {"offset": 0.333, "color": "#e6e6e6"}, {"offset": 0.333, "color": "#2a2a2a"}, {"offset": 0.417, "color": "#2a2a2a"}, {"offset": 0.417, "color": "#e6e6e6"}, {"offset": 0.5, "color": "#e6e6e6"}, {"offset": 0.5, "color": "#2a2a2a"}, {"offset": 0.583, "color": "#2a2a2a"}, {"offset": 0.583, "color": "#e6e6e6"}, {"offset": 0.667, "color": "#e6e6e6"}, {"offset": 0.667, "color": "#2a2a2a"}, {"offset": 0.75, "color": "#2a2a2a"}, {"offset": 0.75, "color": "#e6e6e6"}, {"offset": 0.833, "color": "#e6e6e6"}, {"offset": 0.833, "color": "#2a2a2a"}, {"offset": 0.917, "color": "#2a2a2a"}, {"offset": 0.917, "color": "#e6e6e6"}, {"offset": 1, "color": "#e6e6e6"}]}}, {"test": "datum.group === '20% AMSC-CM'", "value": {"gradient": "linear", "x1": 0, "y1": 0, "x2": 0, "y2": 1, "stops": [{"offset": 0, "color": "#a4a4a4"}, {"offset": 0.36, "color": "#a4a4a4"}, {"offset": 0.36, "color": "#eeeeee"}, {"offset": 0.39, "color": "#eeeeee"}, {"offset": 0.39, "color": "#a4a4a4"}, {"offset": 0.7, "color": "#a4a4a4"}, {"offset": 0.7, "color": "#6e6e6e"}, {"offset": 0.72, "color": "#6e6e6e"}, {"offset": 0.72, "color": "#a4a4a4"}, {"offset": 1, "color": "#a4a4a4"}]}}], "value": {"gradient": "linear", "x1": 0, "y1": 0, "x2": 0, "y2": 1, "stops": [{"offset": 0, "color": "#7a7a7a"}, {"offset": 0.3, "color": "#7a7a7a"}, {"offset": 0.3, "color": "#c4c4c4"}, {"offset": 0.33, "color": "#c4c4c4"}, {"offset": 0.33, "color": "#7a7a7a"}, {"offset": 0.58, "color": "#7a7a7a"}, {"offset": 0.58, "color": "#c4c4c4"}, {"offset": 0.61, "color": "#c4c4c4"}, {"offset": 0.61, "color": "#7a7a7a"}, {"offset": 0.82, "color": "#7a7a7a"}, {"offset": 0.82, "color": "#c4c4c4"}, {"offset": 0.85, "color": "#c4c4c4"}, {"offset": 0.85, "color": "#7a7a7a"}, {"offset": 1, "color": "#7a7a7a"}]}}}}, {"mark": "rule", "encoding": {"y": {"field": "mean", "type": "quantitative"}, "y2": {"field": "hi"}}}, {"mark": "tick", "encoding": {"y": {"field": "hi", "type": "quantitative"}}}, {"mark": "text", "encoding": {"y": {"field": "hi", "type": "quantitative"}, "text": {"field": "sig"}}}]}
              ]
            },
            {
              "bounds": "flush",
              "spacing": 50,
              "hconcat": [
                {"width": 90, "height": 56, "title": "L", "transform": [{"filter": "datum.gene === 'casp3'"}], "encoding": {"x": {"field": "group", "type": "nominal", "sort": null, "axis": {"title": "casp3"}}}, "layer": [{"mark": "bar", "encoding": {"y": {"field": "mean", "type": "quantitative", "scale": {"domain": [0, 3]}, "axis": {"values": [0, 1, 2, 3], "format": "d", "title": "Relative expression to ACTB"}}, "fill": {"condition": [{"test": "datum.group === '10% AMSC-CM'", "value": {"gradient": "linear", "x1": 0, "y1": 0, "x2": 1, "y2": 0, "stops": [{"offset": 0, "color": "#2a2a2a"}, {"offset": 0.083, "color": "#2a2a2a"}, {"offset": 0.083, "color": "#e6e6e6"}, {"offset": 0.167, "color": "#e6e6e6"}, {"offset": 0.167, "color": "#2a2a2a"}, {"offset": 0.25, "color": "#2a2a2a"}, {"offset": 0.25, "color": "#e6e6e6"}, {"offset": 0.333, "color": "#e6e6e6"}, {"offset": 0.333, "color": "#2a2a2a"}, {"offset": 0.417, "color": "#2a2a2a"}, {"offset": 0.417, "color": "#e6e6e6"}, {"offset": 0.5, "color": "#e6e6e6"}, {"offset": 0.5, "color": "#2a2a2a"}, {"offset": 0.583, "color": "#2a2a2a"}, {"offset": 0.583, "color": "#e6e6e6"}, {"offset": 0.667, "color": "#e6e6e6"}, {"offset": 0.667, "color": "#2a2a2a"}, {"offset": 0.75, "color": "#2a2a2a"}, {"offset": 0.75, "color": "#e6e6e6"}, {"offset": 0.833, "color": "#e6e6e6"}, {"offset": 0.833, "color": "#2a2a2a"}, {"offset": 0.917, "color": "#2a2a2a"}, {"offset": 0.917, "color": "#e6e6e6"}, {"offset": 1, "color": "#e6e6e6"}]}}, {"test": "datum.group === '20% AMSC-CM'", "value": {"gradient": "linear", "x1": 0, "y1": 0, "x2": 0, "y2": 1, "stops": [{"offset": 0, "color": "#a4a4a4"}, {"offset": 0.36, "color": "#a4a4a4"}, {"offset": 0.36, "color": "#eeeeee"}, {"offset": 0.39, "color": "#eeeeee"}, {"offset": 0.39, "color": "#a4a4a4"}, {"offset": 0.7, "color": "#a4a4a4"}, {"offset": 0.7, "color": "#6e6e6e"}, {"offset": 0.72, "color": "#6e6e6e"}, {"offset": 0.72, "color": "#a4a4a4"}, {"offset": 1, "color": "#a4a4a4"}]}}], "value": {"gradient": "linear", "x1": 0, "y1": 0, "x2": 0, "y2": 1, "stops": [{"offset": 0, "color": "#7a7a7a"}, {"offset": 0.3, "color": "#7a7a7a"}, {"offset": 0.3, "color": "#c4c4c4"}, {"offset": 0.33, "color": "#c4c4c4"}, {"offset": 0.33, "color": "#7a7a7a"}, {"offset": 0.58, "color": "#7a7a7a"}, {"offset": 0.58, "color": "#c4c4c4"}, {"offset": 0.61, "color": "#c4c4c4"}, {"offset": 0.61, "color": "#7a7a7a"}, {"offset": 0.82, "color": "#7a7a7a"}, {"offset": 0.82, "color": "#c4c4c4"}, {"offset": 0.85, "color": "#c4c4c4"}, {"offset": 0.85, "color": "#7a7a7a"}, {"offset": 1, "color": "#7a7a7a"}]}}}}, {"mark": "rule", "encoding": {"y": {"field": "mean", "type": "quantitative"}, "y2": {"field": "hi"}}}, {"mark": "tick", "encoding": {"y": {"field": "hi", "type": "quantitative"}}}, {"mark": "text", "encoding": {"y": {"field": "hi", "type": "quantitative"}, "text": {"field": "sig"}}}]},
                {"width": 90, "height": 56, "title": "M", "transform": [{"filter": "datum.gene === 'casp9'"}], "encoding": {"x": {"field": "group", "type": "nominal", "sort": null, "axis": {"title": "casp9"}}}, "layer": [{"mark": "bar", "encoding": {"y": {"field": "mean", "type": "quantitative", "scale": {"domain": [0, 3]}, "axis": {"values": [0, 1, 2, 3], "format": "d", "title": "Relative expression to ACTB"}}, "fill": {"condition": [{"test": "datum.group === '10% AMSC-CM'", "value": {"gradient": "linear", "x1": 0, "y1": 0, "x2": 1, "y2": 0, "stops": [{"offset": 0, "color": "#2a2a2a"}, {"offset": 0.083, "color": "#2a2a2a"}, {"offset": 0.083, "color": "#e6e6e6"}, {"offset": 0.167, "color": "#e6e6e6"}, {"offset": 0.167, "color": "#2a2a2a"}, {"offset": 0.25, "color": "#2a2a2a"}, {"offset": 0.25, "color": "#e6e6e6"}, {"offset": 0.333, "color": "#e6e6e6"}, {"offset": 0.333, "color": "#2a2a2a"}, {"offset": 0.417, "color": "#2a2a2a"}, {"offset": 0.417, "color": "#e6e6e6"}, {"offset": 0.5, "color": "#e6e6e6"}, {"offset": 0.5, "color": "#2a2a2a"}, {"offset": 0.583, "color": "#2a2a2a"}, {"offset": 0.583, "color": "#e6e6e6"}, {"offset": 0.667, "color": "#e6e6e6"}, {"offset": 0.667, "color": "#2a2a2a"}, {"offset": 0.75, "color": "#2a2a2a"}, {"offset": 0.75, "color": "#e6e6e6"}, {"offset": 0.833, "color": "#e6e6e6"}, {"offset": 0.833, "color": "#2a2a2a"}, {"offset": 0.917, "color": "#2a2a2a"}, {"offset": 0.917, "color": "#e6e6e6"}, {"offset": 1, "color": "#e6e6e6"}]}}, {"test": "datum.group === '20% AMSC-CM'", "value": {"gradient": "linear", "x1": 0, "y1": 0, "x2": 0, "y2": 1, "stops": [{"offset": 0, "color": "#a4a4a4"}, {"offset": 0.36, "color": "#a4a4a4"}, {"offset": 0.36, "color": "#eeeeee"}, {"offset": 0.39, "color": "#eeeeee"}, {"offset": 0.39, "color": "#a4a4a4"}, {"offset": 0.7, "color": "#a4a4a4"}, {"offset": 0.7, "color": "#6e6e6e"}, {"offset": 0.72, "color": "#6e6e6e"}, {"offset": 0.72, "color": "#a4a4a4"}, {"offset": 1, "color": "#a4a4a4"}]}}], "value": {"gradient": "linear", "x1": 0, "y1": 0, "x2": 0, "y2": 1, "stops": [{"offset": 0, "color": "#7a7a7a"}, {"offset": 0.3, "color": "#7a7a7a"}, {"offset": 0.3, "color": "#c4c4c4"}, {"offset": 0.33, "color": "#c4c4c4"}, {"offset": 0.33, "color": "#7a7a7a"}, {"offset": 0.58, "color": "#7a7a7a"}, {"offset": 0.58, "color": "#c4c4c4"}, {"offset": 0.61, "color": "#c4c4c4"}, {"offset": 0.61, "color": "#7a7a7a"}, {"offset": 0.82, "color": "#7a7a7a"}, {"offset": 0.82, "color": "#c4c4c4"}, {"offset": 0.85, "color": "#c4c4c4"}, {"offset": 0.85, "color": "#7a7a7a"}, {"offset": 1, "color": "#7a7a7a"}]}}}}, {"mark": "rule", "encoding": {"y": {"field": "mean", "type": "quantitative"}, "y2": {"field": "hi"}}}, {"mark": "tick", "encoding": {"y": {"field": "hi", "type": "quantitative"}}}, {"mark": "text", "encoding": {"y": {"field": "hi", "type": "quantitative"}, "text": {"field": "sig"}}}]},
                {"width": 90, "height": 56, "title": "N", "transform": [{"filter": "datum.gene === 'bcl2'"}], "encoding": {"x": {"field": "group", "type": "nominal", "sort": null, "axis": {"title": "bcl2"}}}, "layer": [{"mark": "bar", "encoding": {"y": {"field": "mean", "type": "quantitative", "scale": {"domain": [0, 2]}, "axis": {"values": [0, 0.5, 1, 1.5, 2], "format": ".1f", "title": "Relative expression to ACTB"}}, "fill": {"condition": [{"test": "datum.group === '10% AMSC-CM'", "value": {"gradient": "linear", "x1": 0, "y1": 0, "x2": 1, "y2": 0, "stops": [{"offset": 0, "color": "#2a2a2a"}, {"offset": 0.083, "color": "#2a2a2a"}, {"offset": 0.083, "color": "#e6e6e6"}, {"offset": 0.167, "color": "#e6e6e6"}, {"offset": 0.167, "color": "#2a2a2a"}, {"offset": 0.25, "color": "#2a2a2a"}, {"offset": 0.25, "color": "#e6e6e6"}, {"offset": 0.333, "color": "#e6e6e6"}, {"offset": 0.333, "color": "#2a2a2a"}, {"offset": 0.417, "color": "#2a2a2a"}, {"offset": 0.417, "color": "#e6e6e6"}, {"offset": 0.5, "color": "#e6e6e6"}, {"offset": 0.5, "color": "#2a2a2a"}, {"offset": 0.583, "color": "#2a2a2a"}, {"offset": 0.583, "color": "#e6e6e6"}, {"offset": 0.667, "color": "#e6e6e6"}, {"offset": 0.667, "color": "#2a2a2a"}, {"offset": 0.75, "color": "#2a2a2a"}, {"offset": 0.75, "color": "#e6e6e6"}, {"offset": 0.833, "color": "#e6e6e6"}, {"offset": 0.833, "color": "#2a2a2a"}, {"offset": 0.917, "color": "#2a2a2a"}, {"offset": 0.917, "color": "#e6e6e6"}, {"offset": 1, "color": "#e6e6e6"}]}}, {"test": "datum.group === '20% AMSC-CM'", "value": {"gradient": "linear", "x1": 0, "y1": 0, "x2": 0, "y2": 1, "stops": [{"offset": 0, "color": "#a4a4a4"}, {"offset": 0.36, "color": "#a4a4a4"}, {"offset": 0.36, "color": "#eeeeee"}, {"offset": 0.39, "color": "#eeeeee"}, {"offset": 0.39, "color": "#a4a4a4"}, {"offset": 0.7, "color": "#a4a4a4"}, {"offset": 0.7, "color": "#6e6e6e"}, {"offset": 0.72, "color": "#6e6e6e"}, {"offset": 0.72, "color": "#a4a4a4"}, {"offset": 1, "color": "#a4a4a4"}]}}], "value": {"gradient": "linear", "x1": 0, "y1": 0, "x2": 0, "y2": 1, "stops": [{"offset": 0, "color": "#7a7a7a"}, {"offset": 0.3, "color": "#7a7a7a"}, {"offset": 0.3, "color": "#c4c4c4"}, {"offset": 0.33, "color": "#c4c4c4"}, {"offset": 0.33, "color": "#7a7a7a"}, {"offset": 0.58, "color": "#7a7a7a"}, {"offset": 0.58, "color": "#c4c4c4"}, {"offset": 0.61, "color": "#c4c4c4"}, {"offset": 0.61, "color": "#7a7a7a"}, {"offset": 0.82, "color": "#7a7a7a"}, {"offset": 0.82, "color": "#c4c4c4"}, {"offset": 0.85, "color": "#c4c4c4"}, {"offset": 0.85, "color": "#7a7a7a"}, {"offset": 1, "color": "#7a7a7a"}]}}}}, {"mark": "rule", "encoding": {"y": {"field": "mean", "type": "quantitative"}, "y2": {"field": "hi"}}}, {"mark": "tick", "encoding": {"y": {"field": "hi", "type": "quantitative"}}}, {"mark": "text", "encoding": {"y": {"field": "hi", "type": "quantitative"}, "text": {"field": "sig"}}}]}
              ]
            }
          ]
        }
      ]
    }
  ],
  "config": {
    "view": {"stroke": null},
    "font": "Liberation Sans",
    "scale": {"bandPaddingInner": 0.31, "bandPaddingOuter": 0.14},
    "bar": {"stroke": "#111", "strokeWidth": 1.2},
    "rule": {"color": "#111", "strokeWidth": 1.2},
    "tick": {"color": "#111", "thickness": 1.2, "size": 7},
    "text": {"fontSize": 6, "dy": -3, "baseline": "bottom", "color": "#111"},
    "title": {"anchor": "start", "frame": "group", "dx": -30, "offset": -16, "fontSize": 15, "fontWeight": "normal", "font": "Liberation Sans", "color": "#000"},
    "axis": {"grid": false, "domainColor": "#111", "tickColor": "#111", "labelColor": "#111", "labelFont": "Liberation Sans", "tickSize": 2, "domainWidth": 1},
    "axisX": {"labelAngle": -45, "labelFontSize": 4.8, "labelPadding": 2, "titleX": 45, "titleY": -61, "titleAlign": "center", "titleBaseline": "alphabetic", "titleFont": "DejaVu Sans", "titleFontStyle": "italic", "titleFontWeight": "bold", "titleFontSize": 10, "titleColor": "#000"},
    "axisY": {"labelFontSize": 6, "labelPadding": 1, "titleFontSize": 4.5, "titleFontWeight": "normal", "titlePadding": 3, "titleColor": "#222"}
  }
}
